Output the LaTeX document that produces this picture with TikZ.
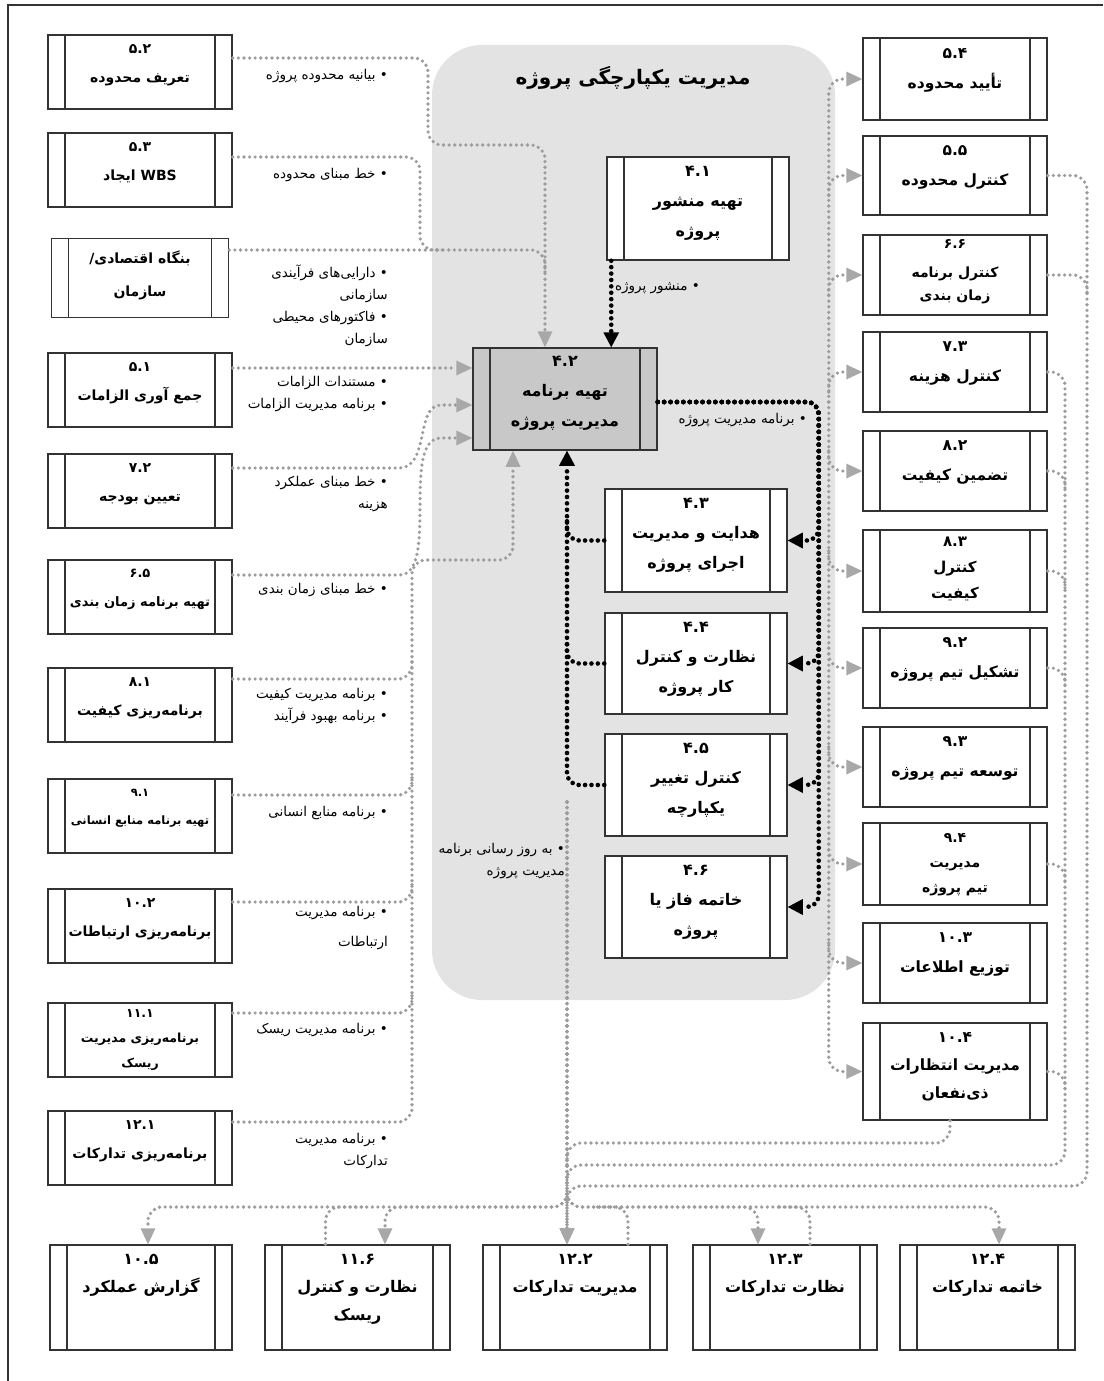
\documentclass[tikz,border=0pt]{standalone}
\usepackage{fontspec}
\usetikzlibrary{arrows.meta,calc}
\TeXXeTstate=1
\newfontfamily\faf[Script=Arabic]{DejaVu Sans}
\newcommand{\myrtl}[1]{\beginR #1\endR}
\definecolor{panelg}{HTML}{E3E3E3}
\definecolor{boxg}{HTML}{C8C8C8}
\definecolor{lineg}{HTML}{9C9C9C}
\definecolor{arrg}{HTML}{A8A8A8}
\tikzset{
 proc/.style={draw=black!80, line width=1.5pt, fill=white, inner sep=0pt, minimum width=184pt,
   path picture={\draw[line width=1.3pt, black!80]
     ([xshift=17pt]path picture bounding box.north west) -- ([xshift=17pt]path picture bounding box.south west)
     ([xshift=-17pt]path picture bounding box.north east) -- ([xshift=-17pt]path picture bounding box.south east);}},
 btxt/.style={anchor=north, align=center, inner sep=0pt, font=\faf\bfseries\fontsize{14}{29}\selectfont},
 rtxt/.style={anchor=north, align=center, inner sep=0pt, font=\faf\bfseries\fontsize{15.5}{30}\selectfont},
 ctxt/.style={anchor=north, align=center, inner sep=0pt, font=\faf\bfseries\fontsize{16}{30}\selectfont},
 ttxt/.style={anchor=north, align=center, inner sep=0pt, font=\faf\bfseries\fontsize{16}{28}\selectfont},
 lbl/.style={anchor=north east, align=right, inner sep=0pt, font=\faf\fontsize{13.5}{22}\selectfont},
 gl/.style={draw=lineg, line width=3.6pt, line cap=round, dash pattern=on 0pt off 5.6pt, rounded corners=14pt},
 ga/.style={gl, -{Triangle[length=16pt,width=15pt,line width=0pt,color=arrg,fill=arrg]}},
 bl/.style={draw=black, line width=4.6pt, line cap=round, dash pattern=on 0pt off 6.4pt, rounded corners=12pt},
 ba/.style={bl, -{Triangle[length=15pt,width=16pt,line width=0pt]}},
}
\begin{document}
\begin{tikzpicture}[x=1pt,y=-1pt]
\useasboundingbox (0,0) rectangle (1103,1381);
\fill[white] (0,0) rectangle (1103,1381);
\draw[line width=1.5pt, black!80] (8,1381) -- (8,5) -- (1103,5);

% panel
\node[fill=panelg, rounded corners=50pt, minimum width=403pt, minimum height=955pt, inner sep=0pt] (panel) at (633.5,522.5) {};
\node[font=\faf\bfseries\fontsize{20}{24}\selectfont, inner sep=0pt] (title) at (633,78) {\myrtl{مدیریت یکپارچگی پروژه}};

% left column
\node[proc, minimum height=74pt] (l1) at (140,72) {};
\node[btxt] (l1t) at ($(l1.north)+(0,10)$) {۵.۲\\\myrtl{تعریف محدوده}};
\node[proc, minimum height=74pt] (l2) at (140,170) {};
\node[btxt] (l2t) at ($(l2.north)+(0,10)$) {۵.۳\\ایجاد WBS};
\node[proc, minimum height=79pt, minimum width=177pt] (l3) at (140,278) {};
\node[btxt] (l3t) at ($(l3.north)+(0,13)$) {\myrtl{بنگاه اقتصادی\kern0pt/}\\[4pt]\myrtl{سازمان}};
\node[proc, minimum height=74pt] (l4) at (140,390) {};
\node[btxt] (l4t) at ($(l4.north)+(0,10)$) {۵.۱\\\myrtl{جمع آوری الزامات}};
\node[proc, minimum height=74pt] (l5) at (140,491) {};
\node[btxt] (l5t) at ($(l5.north)+(0,10)$) {۷.۲\\\myrtl{تعیین بودجه}};
\node[proc, minimum height=74pt] (l6) at (140,597) {};
\node[btxt, font=\faf\bfseries\fontsize{13}{29}\selectfont] (l6t) at ($(l6.north)+(0,10)$) {۶.۵\\\myrtl{تهیه برنامه زمان بندی}};
\node[proc, minimum height=74pt] (l7) at (140,705) {};
\node[btxt] (l7t) at ($(l7.north)+(0,10)$) {۸.۱\\\myrtl{برنامه‌ریزی کیفیت}};
\node[proc, minimum height=74pt] (l8) at (140,816) {};
\node[btxt, font=\faf\bfseries\fontsize{11.5}{28}\selectfont] (l8t) at ($(l8.north)+(0,11)$) {۹.۱\\\myrtl{تهیه برنامه منابع انسانی}};
\node[proc, minimum height=74pt] (l9) at (140,926) {};
\node[btxt] (l9t) at ($(l9.north)+(0,10)$) {۱۰.۲\\\myrtl{برنامه‌ریزی ارتباطات}};
\node[proc, minimum height=74pt] (l10) at (140,1040) {};
\node[btxt, font=\faf\bfseries\fontsize{12.5}{25}\selectfont] (l10t) at ($(l10.north)+(0,7)$) {۱۱.۱\\\myrtl{برنامه‌ریزی مدیریت}\\\myrtl{ریسک}};
\node[proc, minimum height=74pt] (l11) at (140,1148) {};
\node[btxt] (l11t) at ($(l11.north)+(0,10)$) {۱۲.۱\\\myrtl{برنامه‌ریزی تدارکات}};

% left labels
\node[lbl] (l1l) at (388,69) {\myrtl{• بیانیه محدوده پروژه}};
\node[lbl] (l2l) at (388,168) {\myrtl{• خط مبنای محدوده}};
\node[lbl] (l3l) at (388,265) {\myrtl{• دارایی‌های فرآیندی}\\\myrtl{سازمانی}\\\myrtl{• فاکتورهای محیطی}\\\myrtl{سازمان}};
\node[lbl] (l4l) at (388,376) {\myrtl{• مستندات الزامات}\\\myrtl{• برنامه مدیریت الزامات}};
\node[lbl] (l5l) at (388,476) {\myrtl{• خط مبنای عملکرد}\\\myrtl{هزینه}};
\node[lbl] (l6l) at (388,583) {\myrtl{• خط مبنای زمان بندی}};
\node[lbl] (l7l) at (388,688) {\myrtl{• برنامه مدیریت کیفیت}\\\myrtl{• برنامه بهبود فرآیند}};
\node[lbl] (l8l) at (388,806) {\myrtl{• برنامه منابع انسانی}};
\node[lbl] (l9l) at (388,906) {\myrtl{• برنامه مدیریت}\\[8pt]\myrtl{ارتباطات}};
\node[lbl] (l10l) at (388,1023) {\myrtl{• برنامه مدیریت ریسک}};
\node[lbl] (l11l) at (388,1133) {\myrtl{• برنامه مدیریت}\\\myrtl{تدارکات}};

% center
\node[proc, minimum width=182pt, minimum height=103pt] (c1) at (698,208.5) {};
\node[ctxt] (c1t) at ($(c1.north)+(0,10)$) {۴.۱\\\myrtl{تهیه منشور}\\\myrtl{پروژه}};
\node[proc, fill=boxg, minimum width=184pt, minimum height=102pt] (c2) at (565,399) {};
\node[ctxt] (c2t) at ($(c2.north)+(0,9)$) {۴.۲\\\myrtl{تهیه برنامه}\\\myrtl{مدیریت پروژه}};
\node[proc, minimum width=182pt, minimum height=103pt] (c3) at (696,540.5) {};
\node[ctxt] (c3t) at ($(c3.north)+(0,10)$) {۴.۳\\\myrtl{هدایت و مدیریت}\\\myrtl{اجرای پروژه}};
\node[proc, minimum width=182pt, minimum height=101pt] (c4) at (696,663.5) {};
\node[ctxt] (c4t) at ($(c4.north)+(0,10)$) {۴.۴\\\myrtl{نظارت و کنترل}\\\myrtl{کار پروژه}};
\node[proc, minimum width=182pt, minimum height=102pt] (c5) at (696,785) {};
\node[ctxt] (c5t) at ($(c5.north)+(0,10)$) {۴.۵\\\myrtl{کنترل تغییر}\\\myrtl{یکپارچه}};
\node[proc, minimum width=182pt, minimum height=102pt] (c6) at (696,907) {};
\node[ctxt] (c6t) at ($(c6.north)+(0,10)$) {۴.۶\\\myrtl{خاتمه فاز یا}\\\myrtl{پروژه}};

\node[lbl, anchor=east] (chl) at (700,288) {\myrtl{• منشور پروژه}};
\node[lbl, anchor=east] (pml) at (807,420) {\myrtl{• برنامه مدیریت پروژه}};
\node[lbl] (upl) at (565,843) {\myrtl{• به روز رسانی برنامه}\\\myrtl{مدیریت پروژه}};

% right column
\node[proc, minimum height=82pt] (r1) at (955,79) {};
\node[rtxt] (r1t) at ($(r1.north)+(0,11)$) {۵.۴\\\myrtl{تأیید محدوده}};
\node[proc, minimum height=79pt] (r2) at (955,175.5) {};
\node[rtxt] (r2t) at ($(r2.north)+(0,10)$) {۵.۵\\\myrtl{کنترل محدوده}};
\node[proc, minimum height=80pt] (r3) at (955,275) {};
\node[rtxt, font=\faf\bfseries\fontsize{14}{23}\selectfont] (r3t) at ($(r3.north)+(0,5)$) {۶.۶\\[6pt]\myrtl{کنترل برنامه}\\\myrtl{زمان بندی}};
\node[proc, minimum height=80pt] (r4) at (955,372) {};
\node[rtxt] (r4t) at ($(r4.north)+(0,10)$) {۷.۳\\\myrtl{کنترل هزینه}};
\node[proc, minimum height=80pt] (r5) at (955,471) {};
\node[rtxt] (r5t) at ($(r5.north)+(0,10)$) {۸.۲\\\myrtl{تضمین کیفیت}};
\node[proc, minimum height=82pt] (r6) at (955,571) {};
\node[rtxt, font=\faf\bfseries\fontsize{15}{26}\selectfont] (r6t) at ($(r6.north)+(0,8)$) {۸.۳\\\myrtl{کنترل}\\\myrtl{کیفیت}};
\node[proc, minimum height=80pt] (r7) at (955,668) {};
\node[rtxt] (r7t) at ($(r7.north)+(0,10)$) {۹.۲\\\myrtl{تشکیل تیم پروژه}};
\node[proc, minimum height=80pt] (r8) at (955,767) {};
\node[rtxt] (r8t) at ($(r8.north)+(0,10)$) {۹.۳\\\myrtl{توسعه تیم پروژه}};
\node[proc, minimum height=82pt] (r9) at (955,864) {};
\node[rtxt, font=\faf\bfseries\fontsize{14}{25}\selectfont] (r9t) at ($(r9.north)+(0,11)$) {۹.۴\\\myrtl{مدیریت}\\\myrtl{تیم پروژه}};
\node[proc, minimum height=80pt] (r10) at (955,963) {};
\node[rtxt] (r10t) at ($(r10.north)+(0,10)$) {۱۰.۳\\\myrtl{توزیع اطلاعات}};
\node[proc, minimum height=97pt] (r11) at (955,1071.5) {};
\node[rtxt, font=\faf\bfseries\fontsize{15.5}{28}\selectfont] (r11t) at ($(r11.north)+(0,10)$) {۱۰.۴\\\myrtl{مدیریت انتظارات}\\\myrtl{ذی‌نفعان}};

% bottom row
\node[proc, minimum width=182pt, minimum height=105pt] (b1) at (141,1297.5) {};
\node[ttxt] (b1t) at ($(b1.north)+(0,10)$) {۱۰.۵\\\myrtl{گزارش عملکرد}};
\node[proc, minimum width=185pt, minimum height=105pt] (b2) at (357.5,1297.5) {};
\node[ttxt] (b2t) at ($(b2.north)+(0,10)$) {۱۱.۶\\\myrtl{نظارت و کنترل}\\\myrtl{ریسک}};
\node[proc, minimum width=184pt, minimum height=105pt] (b3) at (575,1297.5) {};
\node[ttxt] (b3t) at ($(b3.north)+(0,10)$) {۱۲.۲\\\myrtl{مدیریت تدارکات}};
\node[proc, minimum width=184pt, minimum height=105pt] (b4) at (785,1297.5) {};
\node[ttxt] (b4t) at ($(b4.north)+(0,10)$) {۱۲.۳\\\myrtl{نظارت تدارکات}};
\node[proc, minimum width=175pt, minimum height=105pt] (b5) at (987.5,1297.5) {};
\node[ttxt] (b5t) at ($(b5.north)+(0,10)$) {۱۲.۴\\\myrtl{خاتمه تدارکات}};

% ---- connectors: left inputs to 4.2
\coordinate (c2n) at ($(c2.north)+(-20,0)$);
\draw[ga] ($(l1.east)+(0,-14)$) -- (428,58) -- (428,145) -- (545,145) -- (c2n);
\draw[gl] ($(l2.east)+(0,-13)$) -- (420,157) -- (420,250) -- (545,250) -- (545,272);
\draw[gl] ($(l3.east)+(0,-28)$) -- (445,250);
\draw[ga] ($(l4.east)+(0,-22)$) -- ($(c2.west)+(0,-31)$);
\draw[ga] ($(l5.east)+(0,-23)$) -- (385,468) .. controls (430,468) and (415,405) .. (455,405) -- ($(c2.west)+(0,6)$);
\draw[ga] ($(l6.east)+(0,-22)$) -- (385,575) .. controls (440,575) and (400,438) .. (455,438) -- ($(c2.west)+(0,39)$);
\coordinate (c2g) at ($(c2.south)+(-52,0)$);
\draw[ga] ($(l11.east)+(0,-26)$) -- (412,1122) -- (412,560) -- (513,560) -- (c2g);
\draw[gl] ($(l7.east)+(0,-26)$) -- (412,679) -- ++(0,-22);
\draw[gl] ($(l8.east)+(0,-21)$) -- (412,795) -- ++(0,-22);
\draw[gl] ($(l9.east)+(0,-24)$) -- (412,902) -- ++(0,-22);
\draw[gl] ($(l10.east)+(0,-27)$) -- (412,1013) -- ++(0,-22);

% 4.1 -> 4.2
\coordinate (ch) at ($(c1.south west)+(5,0)$);
\draw[ba] (ch) -- (ch |- c2.north);

% 4.2 -> right (gray distribution)
\coordinate (gj) at ($(c2.east)+(171,3)$);
\draw[ga] (gj) -- (gj |- r1.west) -- (r1.west);
\draw[ga] (gj) -- (gj |- r11.west) -- (r11.west);
\foreach \rn in {r2,r3,r4}
  {\draw[ga] ($(gj |- \rn.west)+(0,20)$) -- (gj |- \rn.west) -- (\rn.west);}
\foreach \rn in {r5,r6,r7,r8,r9,r10}
  {\draw[ga] ($(gj |- \rn.west)+(0,-20)$) -- (gj |- \rn.west) -- (\rn.west);}

% 4.2 -> 4.3..4.6 (black)
\coordinate (bk) at ($(c2.east)+(161,3)$);
\foreach \cn in {c3,c4,c5,c6}
  {\draw[ba] ($(c2.east)+(0,3)$) -- (bk) -- (bk |- \cn.east) -- (\cn.east);}

% 4.3..4.5 -> 4.2 (black)
\coordinate (lk) at ($(c2.south)+(2,0)$);
\draw[ba] (c5.west) -- (c5.west -| lk) -- (lk);
\draw[bl] (c3.west) -- (c3.west -| lk) -- ++(0,-20);
\draw[bl] (c4.west) -- (c4.west -| lk) -- ++(0,-20);

% outputs of right column to bottom
\coordinate (tk) at ($(b3.north)+(-8,0)$);
\coordinate (va) at (1087,1186);
\coordinate (vb) at (1065,1165);
\coordinate (vc) at (950,1143);
\draw[ga] (r2.east) -- (r2.east -| va) -- (va) -- (va -| tk) -- (tk);
\draw[gl] (r3.east) -- (r3.east -| va) -- ++(0,20);
\draw[ga] (r4.east) -- (r4.east -| vb) -- (vb) -- (vb -| tk) -- (tk);
\foreach \rn in {r5,r6,r7,r9,r11}
  {\draw[gl] (\rn.east) -- (\rn.east -| vb) -- ++(0,20);}
\draw[gl] (r11.south -| vc) -- (vc) -- (vc -| tk) -- ++(0,22);

% 4.5 updates down to bottom row
\coordinate (upd) at ($(c5.west -| lk)+(0,17)$);
\coordinate (hd) at (567,1207);
\coordinate (b1a) at ($(b1.north)+(7,0)$);
\coordinate (b2a) at ($(b2.north)+(27.5,0)$);
\coordinate (b4a) at ($(b4.north)+(-27,0)$);
\coordinate (b5a) at ($(b5.north)+(11.5,0)$);
\draw[ga] (upd) -- (tk);
\draw[ga] (upd) -- (hd) -- (hd -| b1a) -- (b1a);
\draw[ga] (upd) -- (hd) -- (hd -| b2a) -- (b2a);
\draw[ga] (upd) -- (hd) -- (hd -| b4a) -- (b4a);
\draw[ga] (upd) -- (hd) -- (hd -| b5a) -- (b5a);

% outputs of bottom boxes
\coordinate (b2o) at ($(b2.north)+(-32,0)$);
\coordinate (b2e) at (362,1207);
\coordinate (b3o) at ($(b3.north)+(53,0)$);
\coordinate (b3e) at (592,1207);
\coordinate (b4o) at ($(b4.north)+(25,0)$);
\coordinate (b4e) at (775,1207);
\draw[gl] (b2o) -- (b2o |- b2e) -- (b2e);
\draw[gl] (b3o) -- (b3o |- b3e) -- (b3e);
\draw[gl] (b4o) -- (b4o |- b4e) -- (b4e);
\end{tikzpicture}
\end{document}
